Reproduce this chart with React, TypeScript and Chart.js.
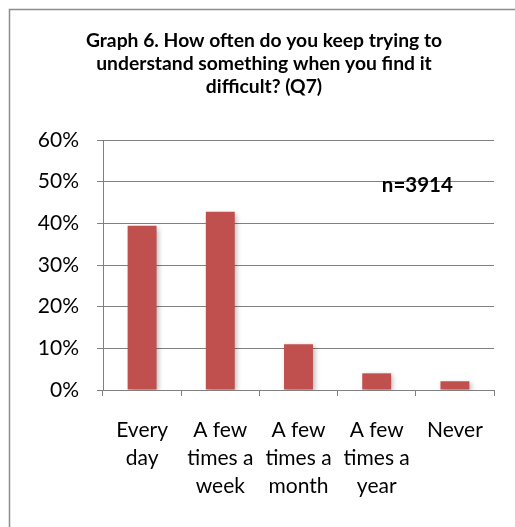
import React, { useEffect, useRef } from "react";
import { Chart, registerables } from "chart.js";

Chart.register(...registerables);

// Survey answers and their shares (percent of respondents)
const categories: string[][] = [
  ["Every", "day"],
  ["A few", "times a", "week"],
  ["A few", "times a", "month"],
  ["A few", "times a", "year"],
  ["Never"],
];
const shares: number[] = [39.4, 42.8, 11.0, 4.0, 2.1];

const yMax = 60;
const yStep = 10;

const titleLines: string[] = [
  "Graph 6. How often do you keep trying to",
  "understand something when you find it",
  "difficult? (Q7)",
];
const sampleNote = "n=3914";

const W = 515;
const H = 527;
const FONT = "Lato, 'Open Sans', sans-serif";
const BAR_COLOR = "#C0504D";
const GRID_COLOR = "#808080";

// Frame, title and sample-size note drawn straight onto the canvas
const decorPlugin = {
  id: "decor",
  beforeDraw(chart: any) {
    const ctx = chart.ctx;
    ctx.save();
    ctx.fillStyle = "#ffffff";
    ctx.fillRect(0, 0, W, H);
    ctx.strokeStyle = "#8c8c8c";
    ctx.lineWidth = 1.5;
    ctx.beginPath();
    ctx.moveTo(9.5, H + 2);
    ctx.lineTo(9.5, 9.5);
    ctx.lineTo(W + 2, 9.5);
    ctx.stroke();

    ctx.fillStyle = "#000000";
    ctx.font = `bold 19.3px ${FONT}`;
    ctx.textAlign = "center";
    ctx.textBaseline = "middle";
    titleLines.forEach((line, i) => {
      ctx.fillText(line, 264, 41 + i * 23);
    });
    ctx.restore();
  },
  afterDraw(chart: any) {
    const ctx = chart.ctx;
    const xs = chart.scales.x;
    const ys = chart.scales.y;
    ctx.save();
    ctx.fillStyle = "#000000";
    ctx.font = `bold 20.5px ${FONT}`;
    ctx.textAlign = "center";
    ctx.textBaseline = "middle";
    ctx.fillText(sampleNote, xs.getPixelForValue(3.52), ys.getPixelForValue(49));
    ctx.restore();
  },
};

// Soft drop shadow under the bars
const shadowPlugin = {
  id: "barShadow",
  beforeDatasetsDraw(chart: any) {
    const ctx = chart.ctx;
    ctx.save();
    ctx.shadowColor = "rgba(0,0,0,0.28)";
    ctx.shadowBlur = 5;
    ctx.shadowOffsetX = 2;
    ctx.shadowOffsetY = 2;
  },
  afterDatasetsDraw(chart: any) {
    chart.ctx.restore();
  },
};

export default function App() {
  const canvasRef = useRef<HTMLCanvasElement | null>(null);

  useEffect(() => {
    if (!canvasRef.current) return;
    const chart = new Chart(canvasRef.current, {
      type: "bar",
      data: {
        labels: categories,
        datasets: [
          {
            data: shares,
            backgroundColor: BAR_COLOR,
            borderWidth: 0,
            barPercentage: 0.37,
            categoryPercentage: 1,
          },
        ],
      },
      options: {
        responsive: false,
        animation: false,
        layout: { padding: { top: 140, right: 21, left: 0, bottom: 0 } },
        plugins: {
          legend: { display: false },
          title: { display: false },
          tooltip: { enabled: false },
        },
        scales: {
          x: {
            offset: true,
            grid: {
              offset: true,
              drawOnChartArea: false,
              drawTicks: true,
              tickLength: 6,
              color: GRID_COLOR,
            },
            border: { color: GRID_COLOR, width: 1 },
            ticks: {
              color: "#000000",
              font: { family: FONT, size: 21, lineHeight: 1.33 },
              padding: 20,
              maxRotation: 0,
              autoSkip: false,
            },
            afterFit(scale: any) {
              scale.height = H - 390;
            },
          },
          y: {
            min: 0,
            max: yMax,
            grid: {
              color: GRID_COLOR,
              lineWidth: 1,
              drawTicks: true,
              tickLength: 6,
            },
            border: { color: GRID_COLOR, width: 1 },
            ticks: {
              stepSize: yStep,
              color: "#000000",
              font: { family: FONT, size: 21 },
              padding: 18,
              callback: (v: any) => `${v}%`,
            },
            afterFit(scale: any) {
              scale.width = 103;
            },
          },
        },
      },
      plugins: [decorPlugin, shadowPlugin],
    });
    return () => chart.destroy();
  }, []);

  return (
    <div style={{ position: "absolute", left: 0, top: 0, width: W, height: H }}>
      <canvas ref={canvasRef} width={W} height={H} style={{ display: "block" }} />
    </div>
  );
}
